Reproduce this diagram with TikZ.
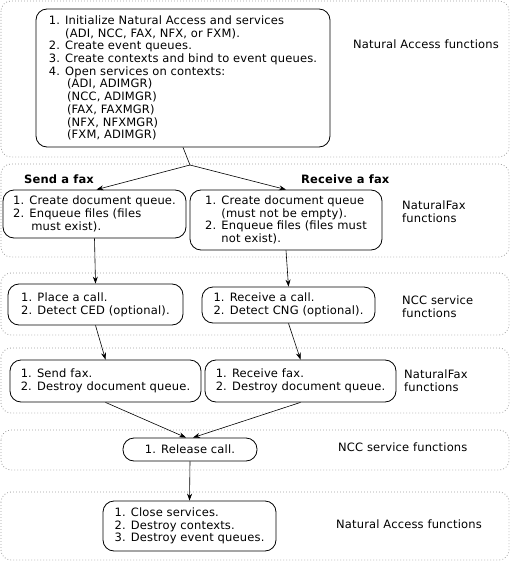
\documentclass[tikz,border=0pt]{standalone}
\usepackage{fontspec}
\setmainfont{DejaVu Sans}[LetterSpace=1.5]
\usetikzlibrary{arrows.meta}
\tikzset{
  band/.style={draw=gray!75, line width=0.8pt, dash pattern=on 0.8pt off 2.2pt, rounded corners=10pt},
  funcbox/.style={draw, line width=0.8pt, rounded corners=11pt, inner sep=0pt, align=left},
  flow/.style={line width=0.6pt, -{Stealth[length=7pt,width=5pt]}},
  lbl/.style={anchor=west, align=left, inner sep=0pt},
}
\newcommand{\hang}{\phantom{1. }}
\begin{document}
\begin{tikzpicture}[x=1pt,y=-1pt,font=\fontsize{11.5}{12.7}\selectfont]
                \useasboundingbox (0,0) rectangle (511,561);

                % Drawing the dotted bands
                \draw [band] (1,1) rectangle (509,157);%
                \draw [band] (1,164) rectangle (509,257);%
                \draw [band] (1,273) rectangle (509,335);%
                \draw [band] (1,348) rectangle (509,413);%
                \draw [band] (1,430) rectangle (509,470);%
                \draw [band] (1,492) rectangle (509,560);%

                % Marking band names
                \node [lbl] (lblinit) at (353,44) {Natural Access functions};%
                \node [lbl] (lblfax) at (402,212) {NaturalFax\\functions};%
                \node [lbl] (lblcall) at (402,307) {NCC service\\functions};%
                \node [lbl] (lblxfer) at (404,381) {NaturalFax\\functions};%
                \node [lbl] (lblrel) at (338,447) {NCC service functions};%
                \node [lbl] (lblclose) at (336,524) {Natural Access functions};%

                % Marking column titles
                \node [lbl, font=\fontsize{11.5}{12.7}\selectfont\bfseries] (send) at (24,179) {Send a fax};%
                \node [lbl, font=\fontsize{11.5}{12.7}\selectfont\bfseries] (recv) at (301,179) {Receive a fax};%

                % Drawing box init
                \node [funcbox, minimum width=294pt, minimum height=138pt] (init) at (183,78)
                  {1. Initialize Natural Access and services\\
                   \hang(ADI, NCC, FAX, NFX, or FXM).\\
                   2. Create event queues.\\
                   3. Create contexts and bind to event queues.\\
                   4. Open services on contexts:\\
                   \hang\,(ADI, ADIMGR)\\
                   \hang\,(NCC, ADIMGR)\\
                   \hang\,(FAX, FAXMGR)\\
                   \hang\,(NFX, NFXMGR)\\
                   \hang\,(FXM, ADIMGR)};%

                % Drawing boxes for the document queues
                \node [funcbox, minimum width=183pt, minimum height=48pt] (sendq) at (94.5,214)
                  {1. Create document queue.\\
                   2. Enqueue files (files\\
                   \hang\,must exist).};%
                \node [funcbox, minimum width=192pt, minimum height=60pt] (recvq) at (286,220)
                  {1. Create document queue\\
                   \hang(must not be empty).\\
                   2. Enqueue files (files must\\
                   \hang not exist).};%

                % Drawing boxes for the calls
                \node [funcbox, minimum width=175pt, minimum height=41pt] (place) at (95.5,304.5)
                  {1. Place a call.\\
                   2. Detect CED (optional).};%
                \node [funcbox, minimum width=173pt, minimum height=36pt] (answer) at (288.5,305)
                  {1. Receive a call.\\
                   2. Detect CNG (optional).};%

                % Drawing boxes for the transfer
                \node [funcbox, minimum width=191pt, minimum height=42pt] (sendfax) at (105.5,381)
                  {1. Send fax.\\
                   2. Destroy document queue.};%
                \node [funcbox, minimum width=191pt, minimum height=42pt] (recvfax) at (300.5,381)
                  {1. Receive fax.\\
                   2. Destroy document queue.};%

                % Drawing box release
                \node [funcbox, minimum width=134pt, minimum height=23pt] (release) at (190,449.5)
                  {1. Release call.};%

                % Drawing box close
                \node [funcbox, minimum width=173pt, minimum height=50pt] (close) at (189.5,526)
                  {1. Close services.\\
                   2. Destroy contexts.\\
                   3. Destroy event queues.};%

                % Drawing the arrows
                \coordinate (fork) at (190,165);
                \draw [line width=0.6pt] (init.south) -- (fork);%
                \draw [flow] (fork) -- ([xshift=2pt]sendq.north);%
                \draw [flow] (fork) -- (recvq.north);%
                \draw [flow] (sendq.south) -- (place.north);%
                \draw [flow] (recvq.south) -- (answer.north);%
                \draw [flow] (place.south) -- (sendfax.north);%
                \draw [flow] (answer.south) -- (recvfax.north);%
                \draw [flow] (sendfax.south) -- ([xshift=-4pt]release.north);%
                \draw [flow] (recvfax.south) -- ([xshift=3pt]release.north);%
                \draw [flow] (release.south) -- (close.north);%
                \end{tikzpicture}
\end{document}
